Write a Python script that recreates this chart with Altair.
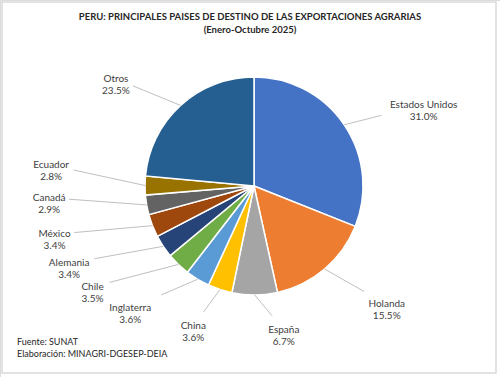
import altair as alt
import pandas as pd

countries = ["Estados Unidos", "Holanda", "España", "China", "Inglaterra", "Chile",
             "Alemania", "México", "Canadá", "Ecuador", "Otros"]
shares = [31.0, 15.5, 6.7, 3.6, 3.6, 3.5, 3.4, 3.4, 2.9, 2.8, 23.5]
colors = ["#4472C4", "#ED7D31", "#A5A5A5", "#FFC000", "#5B9BD5", "#70AD47",
          "#264478", "#9E480E", "#636363", "#997300", "#255E91"]

title_lines = ["PERU: PRINCIPALES PAISES DE DESTINO DE LAS EXPORTACIONES  AGRARIAS",
               "(Enero-Octubre 2025)"]
footer_lines = ["Fuente:  SUNAT", "Elaboración: MINAGRI-DGESEP-DEIA"]

df = pd.DataFrame({"pais": countries, "share": shares, "idx": list(range(len(countries)))})
one = pd.DataFrame({"k": [0]})

CX, CY, R = 254, 186, 109
RX, RY = 205, 145
FONT = "Lato"
TXT = "#404040"

# label layout: labels sit on a rounded ellipse around the pie at the slice mid-angle,
# pushed apart around the crowded group of small slices (Excel-like spreading)
base = alt.Chart(df).transform_joinaggregate(
    total="sum(share)"
).transform_window(
    cum="sum(share)", sort=[alt.SortField("idx")], frame=[None, 0]
).transform_calculate(
    mid="(datum.cum - datum.share/2) / datum.total * 2 * PI",
    middeg="datum.mid * 180 / PI",
    shift="(datum.middeg > 170 && datum.middeg < 300) ? 8 * clamp((datum.middeg - 200) / 15, -1, 1) : 0",
    la="(datum.middeg + datum.shift) * PI / 180",
    lab="datum.pais + '\\n' + format(datum.share, '.1f') + '%'",
    lx=f"{CX} + {RX} * sin(datum.la)",
    ly=f"cos(datum.la) < 0 ? {CY} + {RY} * pow(abs(cos(datum.la)), 0.75) : {CY} - {RY} * cos(datum.la)",
    px=f"{CX} + {R} * sin(datum.mid)",
    py=f"{CY} - {R} * cos(datum.mid)",
    hw="max(length(datum.pais), 5) * 2.8 + 3",
    hh="14",
    ddx="datum.px - datum.lx",
    ddy="datum.py - datum.ly",
    tt="min(datum.hw / max(abs(datum.ddx), 0.001), datum.hh / max(abs(datum.ddy), 0.001))",
    ex="datum.lx + datum.tt * datum.ddx",
    ey="datum.ly + datum.tt * datum.ddy",
)

pie = alt.Chart(df).mark_arc(radius=R, stroke="white", strokeWidth=1.5).encode(
    theta=alt.Theta("share:Q", stack=True),
    order=alt.Order("idx:Q"),
    color=alt.Color("pais:N", scale=alt.Scale(domain=countries, range=colors), legend=None),
    x=alt.value(CX),
    y=alt.value(CY),
)

leaders = base.mark_rule(color="#BFBFBF", strokeWidth=1).encode(
    x=alt.X("px:Q", scale=None, axis=None),
    y=alt.Y("py:Q", scale=None, axis=None),
    x2="ex:Q",
    y2="ey:Q",
)

labels = base.mark_text(font=FONT, fontSize=10, color=TXT, lineBreak="\n",
                        lineHeight=12, align="center", baseline="middle").encode(
    x=alt.X("lx:Q", scale=None, axis=None),
    y=alt.Y("ly:Q", scale=None, axis=None),
    text="lab:N",
)

frame = alt.Chart(one).mark_rect(fill=None, stroke="#DADADA", strokeWidth=1.5).encode(
    x=alt.value(2), x2=alt.value(496), y=alt.value(2), y2=alt.value(373)
)

title1 = alt.Chart(one).mark_text(font=FONT, fontSize=9.5, fontWeight="bold", color="#262626",
                                  align="center", baseline="middle").encode(
    x=alt.value(250), y=alt.value(17), text=alt.value(title_lines[0]))
title2 = alt.Chart(one).mark_text(font=FONT, fontSize=9.5, fontWeight="bold", color="#262626",
                                  align="center", baseline="middle").encode(
    x=alt.value(250), y=alt.value(30), text=alt.value(title_lines[1]))

foot1 = alt.Chart(one).mark_text(font=FONT, fontSize=9, color="#262626", align="left",
                                 baseline="middle").encode(
    x=alt.value(17), y=alt.value(342), text=alt.value(footer_lines[0]))
foot2 = alt.Chart(one).mark_text(font=FONT, fontSize=9, color="#262626", align="left",
                                 baseline="middle").encode(
    x=alt.value(17), y=alt.value(354), text=alt.value(footer_lines[1]))

chart = alt.layer(frame, pie, leaders, labels, title1, title2, foot1, foot2).properties(
    width=500, height=377, padding=0, autosize=alt.AutoSizeParams(type="none")
).configure_view(stroke=None).configure(background="white")

chart.save("out.html", embed_options={"renderer": "svg", "actions": False})
